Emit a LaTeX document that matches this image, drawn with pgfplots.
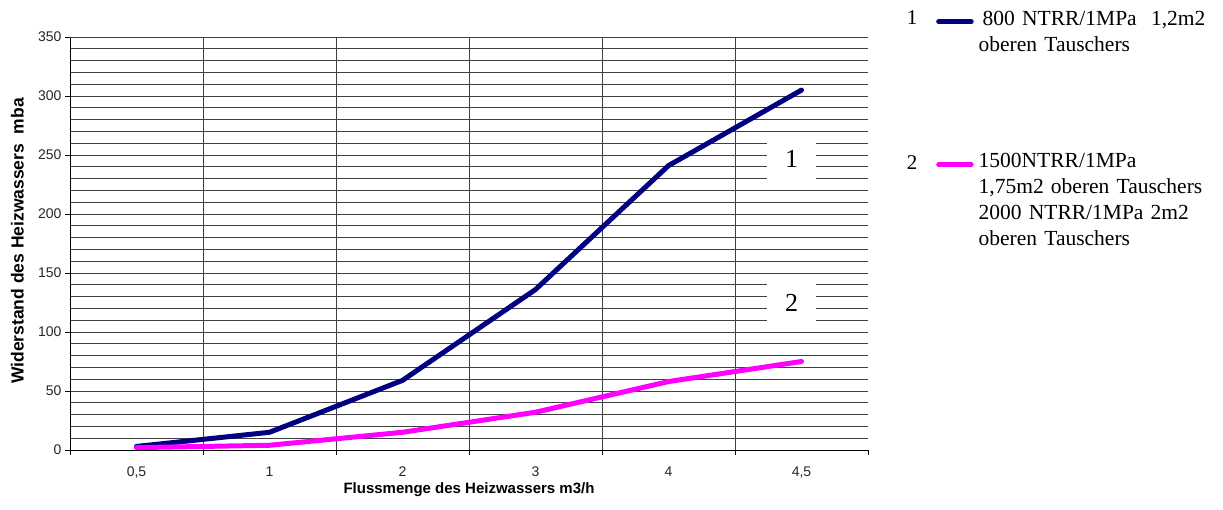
\documentclass[border=0pt]{standalone}
\usepackage{pgfplots}
\pgfplotsset{compat=1.18}
\usetikzlibrary{calc}
\usepackage{fontspec}
\setmainfont{Liberation Sans}
\newfontfamily\tnr{Liberation Serif}
\definecolor{navyline}{RGB}{0,0,128}
\definecolor{magline}{RGB}{255,0,255}
\begin{document}
\begin{tikzpicture}[x=1pt,y=1pt]
\begin{axis}[
  name=main,
  at={(0,0)}, anchor=south west,
  scale only axis, width=798pt, height=413pt,
  xmin=-0.5, xmax=5.5, ymin=0, ymax=350,
  axis x line*=bottom, axis y line*=left,
  axis line style={black, line width=0.8pt},
  tick align=outside,
  major tick length=5pt,
  minor tick length=0pt,
  tick style={black, line width=0.8pt},
  xtick={-0.5,0.5,1.5,2.5,3.5,4.5,5.5},
  xticklabels={{},{},{},{},{},{},{}},
  extra x ticks={0,1,2,3,4,5},
  extra x tick labels={{0,5},1,2,3,4,{4,5}},
  extra x tick style={major tick length=0pt, grid=none, xticklabel style={yshift=-13pt}},
  minor xtick={0.5,1.5,2.5,3.5,4.5},
  xminorgrids,
  ytick={0,50,...,300},
  extra y ticks={350},
  extra y tick style={grid style={black!12, line width=0.8pt}},
  minor ytick={10,20,...,340},
  ymajorgrids, yminorgrids,
  major grid style={black!75, line width=0.9pt},
  minor grid style={black!75, line width=0.9pt},
  /pgf/number format/assume math mode=true,
  ticklabel style={font=\fontsize{14}{16}\selectfont, text=black!85},
  xlabel={Flussmenge des Heizwassers m3/h},
  ylabel={Widerstand des Heizwassers\ \ mba},
  xlabel style={at={(axis description cs:0.5,-0.097)}, anchor=center, font=\bfseries\fontsize{15}{17}\selectfont},
  ylabel style={at={(axis description cs:-0.066,0.506)}, anchor=center, font=\bfseries\fontsize{17.5}{19}\selectfont},
  legend style={draw=none, fill=none, at={(axis description cs:1.0852,1.064)}, anchor=north west,
    font=\tnr\fontsize{21.5}{26}\selectfont, inner sep=0pt, row sep=127pt, column sep=5pt,
    nodes={inner sep=0pt, anchor=base west}},
  legend image code/.code={\draw[#1, line cap=round] (2.5pt,0.33em) -- (35pt,0.33em);},
]
\addplot[navyline, line width=5pt, line cap=round, line join=round]
  coordinates {(0,3) (1,15) (2,59) (3,136) (4,241) (5,305)};
\addlegendentry[text width=250pt]{\hspace*{4pt}800 NTRR/1MPa\ \ 1,2m2\\oberen Tauschers}
\addplot[magline, line width=5pt, line cap=round, line join=round]
  coordinates {(0,2) (1,4) (2,15) (3,32) (4,58) (5,75)};
\addlegendentry[text width=250pt]{1500NTRR/1MPa\\1,75m2 oberen Tauschers\\2000 NTRR/1MPa 2m2\\oberen Tauschers}
\node[fill=white, inner sep=0pt, minimum width=49pt, minimum height=43pt, font=\tnr\fontsize{26}{30}\selectfont] at (axis cs:4.925,247) {1};
\node[fill=white, inner sep=0pt, minimum width=49pt, minimum height=40pt, font=\tnr\fontsize{26}{30}\selectfont] at (axis cs:4.925,125) {2};
\end{axis}
\node[font=\tnr\fontsize{21}{24}\selectfont] at ($(main.south west)+(842,432)$) {1};
\node[font=\tnr\fontsize{21}{24}\selectfont] at ($(main.south west)+(842,287)$) {2};
\pgfresetboundingbox
\path[use as bounding box] ($(main.south west)+(-70,-60)$) rectangle ++(1223,510);
\end{tikzpicture}
\end{document}
